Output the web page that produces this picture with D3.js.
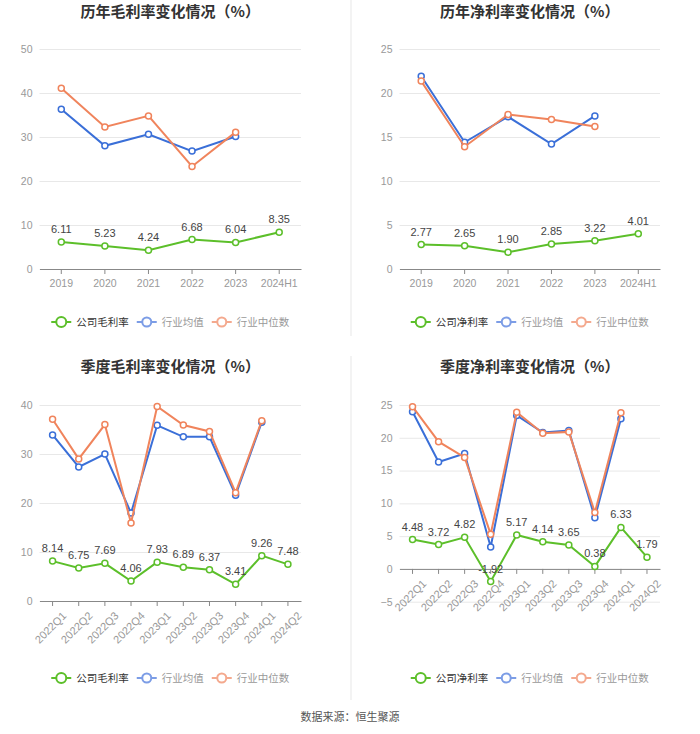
<!DOCTYPE html>
<html><head><meta charset="utf-8">
<script src="https://cdn.jsdelivr.net/npm/d3@7"></script>
<style>body{margin:0;background:#fff;}svg{display:block;font-family:"Noto Sans CJK SC","Noto Sans",sans-serif;}</style>
</head><body>
<svg id="c" width="700" height="734"></svg>
<script>
// ---- Data ----
const yearCats = ["2019","2020","2021","2022","2023","2024H1"];
const grossCompany = [6.11,5.23,4.24,6.68,6.04,8.35];
const grossIndAvg = [36.3,28.0,30.6,26.8,30.1];
const grossIndMed = [41.1,32.3,34.8,23.3,31.1];
const netCompany = [2.77,2.65,1.90,2.85,3.22,4.01];
const netIndAvg = [21.9,14.4,17.3,14.2,17.4];
const netIndMed = [21.35,13.9,17.55,17.0,16.2];

const quarterCats = ["2022Q1","2022Q2","2022Q3","2022Q4","2023Q1","2023Q2","2023Q3","2023Q4","2024Q1","2024Q2"];
const qGrossCompany = [8.14,6.75,7.69,4.06,7.93,6.89,6.37,3.41,9.26,7.48];
const qGrossIndAvg = [33.9,27.35,30.0,17.96,35.85,33.5,33.5,21.6,36.5];
const qGrossIndMed = [37.1,29.0,36.0,15.9,39.7,35.9,34.6,22.1,36.8];
const qNetCompany = [4.48,3.72,4.82,-1.92,5.17,4.14,3.65,0.38,6.33,1.79];
const qNetIndAvg = [23.98,16.3,17.6,3.35,23.4,20.8,21.1,7.8,22.9];
const qNetIndMed = [24.75,19.4,17.0,5.3,23.9,20.7,20.9,8.6,23.8];

const yTicksGross = [0,10,20,30,40,50];
const yTicksNet = [0,5,10,15,20,25];
const yTicksQGross = [0,10,20,30,40];
const yTicksQNet = [-5,0,5,10,15,20,25];

const titles = ["历年毛利率变化情况（%）","历年净利率变化情况（%）","季度毛利率变化情况（%）","季度净利率变化情况（%）"];
const legendGross = ["公司毛利率","行业均值","行业中位数"];
const legendNet = ["公司净利率","行业均值","行业中位数"];
const sourceText = "数据来源：恒生聚源";

const GREEN = "#5cbf2a", BLUE = "#3a6fd8", ORANGE = "#f0845c";
const NUMFONT = "'Liberation Sans', Arial, sans-serif";

const svg = d3.select("#c");

// faint divider
svg.append("line").attr("x1",351).attr("x2",351).attr("y1",0).attr("y2",336).attr("stroke","#f3f3f3").attr("stroke-width",2);
svg.append("line").attr("x1",351).attr("x2",351).attr("y1",356).attr("y2",700).attr("stroke","#f3f3f3").attr("stroke-width",2);

function panel(o){
  const g = svg.append("g");
  const x = d3.scaleBand().domain(o.cats).range([o.left,o.right]);
  const y = d3.scaleLinear().domain(o.domain).range([o.bottom,o.top]);
  const cx = d => x(d)+x.bandwidth()/2;
  const cMid = (o.left+o.right)/2;

  // title
  g.append("text").attr("x",cMid).attr("y",o.titleY).attr("text-anchor","middle")
    .attr("font-size",15).attr("font-weight","bold").attr("fill","#333").text(o.title);

  // grid
  const yAxis = d3.axisLeft(y).tickValues(o.ticks).tickSize(-(o.right-o.left)).tickPadding(7);
  const ga = g.append("g").attr("transform",`translate(${o.left},0)`).call(yAxis);
  ga.select(".domain").remove();
  ga.selectAll(".tick line").attr("stroke","#e8e8e8");
  ga.selectAll(".tick text").attr("fill","#999").attr("font-size",10.5).attr("font-family",NUMFONT);

  // x axis at 0
  const xAxis = d3.axisBottom(x).tickSizeOuter(0).tickSizeInner(5).tickPadding(6);
  const gx = g.append("g").attr("transform",`translate(0,${y(0)})`).call(xAxis);
  gx.select(".domain").attr("stroke","#888");
  gx.selectAll(".tick line").attr("stroke","#888");
  gx.selectAll(".tick text").attr("fill","#999").attr("font-size",10.5).attr("font-family",NUMFONT);
  if(o.rotate){
    gx.selectAll(".tick text").attr("font-size",11).attr("text-anchor","end").attr("dy","0.35em")
      .attr("transform","translate(4,5) rotate(-45)");
  }

  const line = d3.line().x((d,i)=>cx(o.cats[i])).y(d=>y(d));
  const series = [{v:o.comp,c:GREEN},{v:o.avg,c:BLUE},{v:o.med,c:ORANGE}];
  series.forEach(s=>{
    g.append("path").datum(s.v).attr("d",line).attr("fill","none").attr("stroke",s.c).attr("stroke-width",2);
    g.selectAll(null).data(s.v).enter().append("circle")
      .attr("cx",(d,i)=>cx(o.cats[i])).attr("cy",d=>y(d)).attr("r",3)
      .attr("fill","#fff").attr("stroke",s.c).attr("stroke-width",1.5);
  });
  // labels
  g.selectAll(null).data(o.comp).enter().append("text")
    .attr("x",(d,i)=>cx(o.cats[i])).attr("y",d=>y(d)-9)
    .attr("text-anchor","middle").attr("font-size",11).attr("fill","#444")
    .attr("font-family",NUMFONT)
    .text(d=>d.toFixed(2));

  // legend
  const lg = g.append("g");
  const colors = [GREEN,"#7c9de6","#f4a98e"];
  const tcol = ["#333","#999","#999"];
  let xpos = 0;
  o.legend.forEach((name,i)=>{
    const it = lg.append("g").attr("transform",`translate(${xpos},0)`);
    it.append("line").attr("x1",0).attr("x2",20).attr("y1",0).attr("y2",0).attr("stroke",colors[i]).attr("stroke-width",2);
    it.append("circle").attr("cx",10).attr("cy",0).attr("r",i===0?5:4.5).attr("fill","#fff").attr("stroke",colors[i]).attr("stroke-width",2);
    const t = it.append("text").attr("x",25).attr("y",0).attr("dy","0.35em").attr("font-size",10.5).attr("fill",tcol[i]).text(name);
    const w = t.node().getComputedTextLength();
    xpos += 25 + w + 8;
  });
  const total = xpos - 8;
  lg.attr("transform",`translate(${cMid-total/2},${o.legendY})`);
}

panel({title:titles[0],cats:yearCats,comp:grossCompany,avg:grossIndAvg,med:grossIndMed,domain:[0,50],ticks:yTicksGross,
  left:39.5,right:301,top:49,bottom:269,titleY:17,legendY:322,legend:legendGross,rotate:false});
panel({title:titles[1],cats:yearCats,comp:netCompany,avg:netIndAvg,med:netIndMed,domain:[0,25],ticks:yTicksNet,
  left:399.5,right:660,top:49,bottom:269,titleY:17,legendY:322,legend:legendNet,rotate:false});
panel({title:titles[2],cats:quarterCats,comp:qGrossCompany,avg:qGrossIndAvg,med:qGrossIndMed,domain:[0,40],ticks:yTicksQGross,
  left:39.5,right:301,top:405,bottom:601,titleY:372,legendY:678,legend:legendGross,rotate:true});
panel({title:titles[3],cats:quarterCats,comp:qNetCompany,avg:qNetIndAvg,med:qNetIndMed,domain:[-5,25],ticks:yTicksQNet,
  left:399.5,right:660,top:405,bottom:601.7,titleY:372,legendY:678,legend:legendNet,rotate:true});

svg.append("text").attr("x",350).attr("y",721).attr("text-anchor","middle").attr("font-size",11).attr("fill","#555").text(sourceText);
</script>
</body></html>
